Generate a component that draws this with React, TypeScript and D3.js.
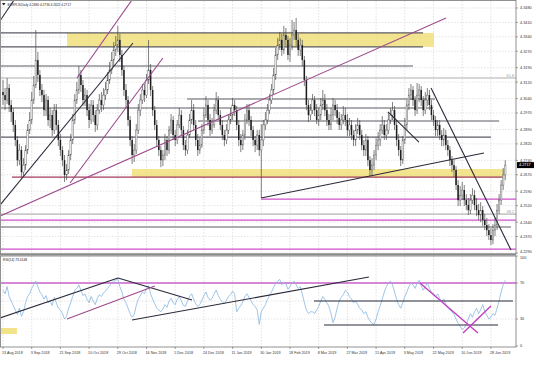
import React from 'react';
import * as d3 from 'd3';

const W = 536, H = 378;

const symbolTitle = 'EURPLN,Daily  4.2680 4.2736 4.2622 4.2717';
const rsiTitle = 'RSI(14) 73.4148';
const lastPriceLabel = '4.2717';

const firstOpen = 4.3072;
const closes = [
  4.3057,4.3033,4.3091,4.3009,4.2975,4.2912,4.2839,4.2741,4.2790,4.2683,
  4.2717,4.2790,4.2887,4.2936,4.3033,4.3106,4.3227,4.3155,4.3082,4.3057,
  4.2984,4.3033,4.2936,4.2960,4.2887,4.2984,4.2912,4.2839,4.2790,4.2741,
  4.2669,4.2693,4.2766,4.2839,4.2936,4.3033,4.3082,4.3155,4.3106,4.3033,
  4.3057,4.2984,4.2936,4.3009,4.2960,4.2912,4.2984,4.3033,4.3009,4.3057,
  4.3082,4.3130,4.3179,4.3227,4.3276,4.3300,4.3325,4.3252,4.3179,4.3082,
  4.3033,4.2936,4.2839,4.2766,4.2790,4.2887,4.2984,4.3033,4.3082,4.3057,
  4.3130,4.3179,4.3082,4.2984,4.2912,4.2839,4.2790,4.2741,4.2766,4.2839,
  4.2790,4.2887,4.2936,4.2863,4.2839,4.2912,4.2960,4.2887,4.2814,4.2790,
  4.2863,4.2936,4.2984,4.2912,4.2839,4.2790,4.2814,4.2887,4.2960,4.3009,
  4.2936,4.2887,4.2912,4.2984,4.3033,4.2960,4.2912,4.2863,4.2839,4.2887,
  4.2936,4.2960,4.3009,4.2984,4.2912,4.2839,4.2814,4.2863,4.2936,4.2984,
  4.2936,4.2887,4.2839,4.2814,4.2863,4.2790,4.2839,4.2912,4.2936,4.2984,
  4.3033,4.3082,4.3155,4.3252,4.3300,4.3325,4.3276,4.3349,4.3325,4.3252,
  4.3300,4.3349,4.3373,4.3325,4.3276,4.3300,4.3227,4.3130,4.3009,4.2960,
  4.2984,4.3033,4.2984,4.2936,4.2960,4.3009,4.3033,4.2984,4.2936,4.2912,
  4.2960,4.3009,4.2984,4.2946,4.2912,4.2936,4.2960,4.2936,4.2887,4.2912,
  4.2863,4.2839,4.2887,4.2912,4.2863,4.2814,4.2790,4.2839,4.2741,4.2693,
  4.2717,4.2766,4.2814,4.2839,4.2887,4.2912,4.2863,4.2887,4.2936,4.2960,
  4.2984,4.2912,4.2839,4.2790,4.2741,4.2839,4.2912,4.3009,4.3057,4.3082,
  4.3033,4.2984,4.3057,4.3082,4.3033,4.2984,4.3033,4.3057,4.3009,4.2960,
  4.2936,4.2887,4.2912,4.2863,4.2839,4.2863,4.2814,4.2790,4.2741,4.2717,
  4.2693,4.2620,4.2547,4.2571,4.2596,4.2547,4.2523,4.2498,4.2547,4.2571,
  4.2523,4.2498,4.2474,4.2498,4.2450,4.2426,4.2401,4.2377,4.2353,4.2401,
  4.2426,4.2498,4.2547,4.2620,4.2669,4.2717
];
const highs = [
  4.3130,4.3091,4.3140,4.3111,4.3033,4.2994,4.2936,4.2858,4.2819,4.2809,
  4.2751,4.2814,4.2916,4.2975,4.3072,4.3150,4.3373,4.3266,4.3179,4.3111,
  4.3082,4.3062,4.3052,4.2994,4.2984,4.3014,4.3014,4.2936,4.2868,4.2809,
  4.2766,4.2722,4.2790,4.2868,4.2965,4.3062,4.3121,4.3198,4.3179,4.3130,
  4.3091,4.3082,4.3014,4.3033,4.3033,4.2984,4.3014,4.3062,4.3072,4.3091,
  4.3121,4.3169,4.3218,4.3266,4.3315,4.3344,4.3393,4.3354,4.3276,4.3198,
  4.3111,4.3052,4.2955,4.2858,4.2819,4.2916,4.3014,4.3062,4.3111,4.3111,
  4.3159,4.3325,4.3208,4.3101,4.3004,4.2936,4.2858,4.2809,4.2790,4.2868,
  4.2858,4.2907,4.2965,4.2955,4.2887,4.2936,4.2994,4.2984,4.2907,4.2839,
  4.2887,4.2965,4.3033,4.3014,4.2936,4.2868,4.2848,4.2916,4.2994,4.3052,
  4.3033,4.2965,4.2946,4.3014,4.3072,4.3052,4.2984,4.2936,4.2887,4.2916,
  4.2965,4.2994,4.3043,4.3033,4.3004,4.2936,4.2868,4.2887,4.2965,4.3014,
  4.3014,4.2955,4.2907,4.2858,4.2887,4.2887,4.2916,4.2936,4.2975,4.3014,
  4.3062,4.3111,4.3189,4.3286,4.3334,4.3364,4.3354,4.3393,4.3383,4.3344,
  4.3334,4.3422,4.3412,4.3432,4.3354,4.3334,4.3325,4.3247,4.3150,4.3033,
  4.3014,4.3062,4.3052,4.3014,4.2994,4.3043,4.3082,4.3062,4.3014,4.2965,
  4.2994,4.3043,4.3033,4.3014,4.2975,4.2965,4.3004,4.2994,4.2965,4.2946,
  4.2936,4.2887,4.2916,4.2946,4.2936,4.2887,4.2839,4.2868,4.2858,4.2761,
  4.2751,4.2790,4.2848,4.2878,4.2916,4.2955,4.2936,4.2916,4.2975,4.2994,
  4.3023,4.3004,4.2936,4.2868,4.2809,4.2858,4.2946,4.3033,4.3091,4.3111,
  4.3101,4.3052,4.3116,4.3111,4.3101,4.3052,4.3072,4.3091,4.3082,4.3033,
  4.2984,4.2955,4.2936,4.2936,4.2887,4.2897,4.2887,4.2839,4.2809,4.2761,
  4.2741,4.2712,4.2644,4.2615,4.2635,4.2620,4.2576,4.2557,4.2576,4.2605,
  4.2596,4.2557,4.2528,4.2537,4.2518,4.2479,4.2460,4.2430,4.2411,4.2430,
  4.2460,4.2528,4.2576,4.2644,4.2703,4.2741
];
const lows = [
  4.3009,4.2984,4.3014,4.2975,4.2926,4.2878,4.2809,4.2712,4.2717,4.2659,
  4.2664,4.2693,4.2771,4.2868,4.2916,4.3014,4.3091,4.3121,4.3052,4.3023,
  4.2955,4.2955,4.2907,4.2897,4.2858,4.2868,4.2887,4.2809,4.2761,4.2712,
  4.2635,4.2644,4.2673,4.2741,4.2819,4.2916,4.3014,4.3062,4.3072,4.3004,
  4.3004,4.2955,4.2897,4.2916,4.2926,4.2878,4.2887,4.2965,4.2975,4.2984,
  4.3033,4.3062,4.3111,4.3159,4.3198,4.3247,4.3266,4.3218,4.3150,4.3052,
  4.2994,4.2907,4.2809,4.2722,4.2732,4.2771,4.2868,4.2955,4.3014,4.3023,
  4.3043,4.3111,4.3052,4.2955,4.2887,4.2809,4.2761,4.2707,4.2712,4.2741,
  4.2761,4.2771,4.2868,4.2839,4.2809,4.2819,4.2897,4.2858,4.2790,4.2761,
  4.2771,4.2848,4.2916,4.2887,4.2809,4.2761,4.2771,4.2800,4.2868,4.2946,
  4.2907,4.2858,4.2868,4.2897,4.2965,4.2936,4.2887,4.2839,4.2809,4.2819,
  4.2868,4.2916,4.2936,4.2955,4.2887,4.2809,4.2780,4.2790,4.2839,4.2916,
  4.2907,4.2858,4.2809,4.2780,4.2790,4.2761,4.2557,4.2809,4.2887,4.2916,
  4.2965,4.3014,4.3062,4.3130,4.3227,4.3276,4.3247,4.3257,4.3295,4.3227,
  4.3218,4.3276,4.3325,4.3295,4.3247,4.3247,4.3198,4.3101,4.2984,4.2926,
  4.2936,4.2965,4.2955,4.2916,4.2907,4.2936,4.2984,4.2955,4.2907,4.2887,
  4.2887,4.2936,4.2955,4.2916,4.2887,4.2887,4.2916,4.2907,4.2858,4.2858,
  4.2839,4.2809,4.2809,4.2868,4.2839,4.2790,4.2761,4.2761,4.2712,4.2664,
  4.2669,4.2693,4.2741,4.2790,4.2809,4.2868,4.2839,4.2839,4.2868,4.2916,
  4.2936,4.2887,4.2809,4.2761,4.2712,4.2722,4.2819,4.2887,4.2984,4.3033,
  4.3004,4.2955,4.2965,4.3023,4.3004,4.2955,4.2965,4.3004,4.2984,4.2936,
  4.2907,4.2858,4.2858,4.2839,4.2809,4.2809,4.2790,4.2761,4.2712,4.2683,
  4.2659,4.2596,4.2518,4.2518,4.2547,4.2518,4.2498,4.2474,4.2479,4.2528,
  4.2498,4.2469,4.2450,4.2440,4.2421,4.2401,4.2372,4.2353,4.2328,4.2333,
  4.2372,4.2401,4.2479,4.2523,4.2596,4.2644
];
const rsiValues = [
  62,58,66,55,50, 45,40,35,42,33,38, 48,55,58, 64,68,72,66,60,
  57,52,56,48,50,45,54,48,42,40, 36,30,33,42,48, 55,62,64,68,62,56,58,
  52,48,55,50,46,53,57,55,59, 61,64,67,70,72,73,75,66, 60,52,48,42,36,32,
  35,45,52, 56,60,58,64,67,58, 52,47,42,40,38,41,46,43, 50,53,48,46,52,
  55,50,45,44,50,55,58,52,47,44,46,51,56,60,54,51,53,58,62,56,
  52,49,47,51,55,57,61,58,38,42,45,49,55,58,54,50,46,44,40,24,
  38, 42,46,52,56,60,65,70, 72,74,68,71,69,63,66,70,72,68,64,66,58,
  48,40,36,38, 38,36,40,44,50,55,52,48,44,36,26,32,42,50,54,
  57,62,60,55,52,48,50,46,42,40,36,38,32,28,25,
  24,30,38,45,52,60,66,70,72,68, 60,52,46,42,48,55,
  60,66,70,68,64,70,73,67, 62,66,70,64,60,58, 55,58,53,50,52,46,42,
  40,38,35,30,25, 22,18,20,24,30,36,32,38,42,36,
  40,46,38,34,30,32,36,34, 42,50,60,68,73
];

const priceTicks = [4.3480,4.3410,4.3340,4.3270,4.3190,4.3120,4.3040,4.2970,4.2890,
  4.2820,4.2740,4.2670,4.2590,4.2520,4.2440,4.2370,4.2290];
const rsiTicks = [100, 70, 30, 0];
const dateLabels = ['13 Aug 2018','3 Sep 2018','21 Sep 2018','10 Oct 2018','29 Oct 2018',
  '16 Nov 2018','5 Dec 2018','24 Dec 2018','11 Jan 2019','30 Jan 2019','18 Feb 2019',
  '8 Mar 2019','27 Mar 2019','15 Apr 2019','3 May 2019','22 May 2019','10 Jun 2019','28 Jun 2019'];
const dateBars = [0,14,28,42,56,70,84,98,112,126,140,154,168,182,196,210,224,238];

// annotation levels: [price, fromBar, toBar, kind]
const levels: [number, number, number, string][] = [
  [4.3359, -2, 204.9, 'gray'],
  [4.3291, -2, 204.9, 'gray'],
  [4.3198, -2, 200, 'gray'],
  [4.3140, -2, 252, 'fib'],
  [4.3038, 89.8, 210.7, 'gray'],
  [4.2994, -2, 209.8, 'gray'],
  [4.2931, 95.1, 242, 'gray'],
  [4.2853, -2, 238, 'gray'],
  [4.2659, 4.4, 244.4, 'red'],
  [4.2552, 125.9, 252, 'pink'],
  [4.2479, -2, 252, 'fib'],
  [4.2450, -2, 252, 'pink'],
  [4.2416, -2, 247.8, 'gray'],
  [4.2309, -2, 252, 'pink'],
];
// zones: [priceTop, priceBottom, fromBar, toBar]
const zones: [number, number, number, number][] = [
  [4.3359, 4.3291, 31.2, 210.2],
  [4.2698, 4.2659, 62.9, 244.4],
];
const fibLabels: [number, string][] = [[4.3140, '61.8'], [4.2479, '38.2']];
// trend lines: [bar1, price1, bar2, price2, kind]
const trends: [number, number, number, number, string][] = [
  [-1.5, 4.3417, 5.4, 4.3519, 'black'],
  [-1.46, 4.2523, 63.4, 4.3310, 'black'],
  [36.1, 4.3140, 62.9, 4.3519, 'purple'],
  [32.7, 4.2630, 78.0, 4.3237, 'purple'],
  [-1.46, 4.2469, 216.1, 4.3432, 'purple'],
  [125.9, 4.2557, 234.6, 4.2776, 'black'],
  [187.8, 4.2975, 202.9, 4.2829, 'black'],
  [208.8, 4.3091, 247.8, 4.2304, 'black'],
];
// RSI lines: [bar1, rsi1, bar2, rsi2, kind]
const rsiTrends: [number, number, number, number, string][] = [
  [-1.46, 31.1, 56.1, 75.6, 'black'],
  [56.1, 75.6, 92.2, 51.1, 'black'],
  [31.2, 30, 74.1, 66.7, 'purple'],
  [62.9, 28.9, 178.5, 76.7, 'black'],
  [151.7, 50, 248.8, 50, 'black'],
  [156.6, 23.3, 241.5, 23.3, 'black'],
  [203.4, 70, 231.7, 14.4, 'magenta'],
  [224.4, 14.4, 238, 44.4, 'magenta'],
];
const rsiZone: [number, number, number, number] = [-1.5, 6.8, 20, 13.3];

const colors: Record<string, string> = {
  gray: '#5a5a64', black: '#2a2a3a', purple: '#9c4a8c', red: '#a23a58',
  pink: '#d050cc', magenta: '#c040c0', fib: '#c8c8c8',
};

export default function App() {
  const x = d3.scaleLinear().domain([0, 245]).range([3, 505.25]);
  const y = d3.scaleLinear().domain([4.2290, 4.3480]).range([253, 8]);
  const ry = d3.scaleLinear().domain([0, 100]).range([346, 256]);
  const rsiLine = d3.line<number>().x((_, i) => x(i)).y(d => ry(d))(rsiValues) || '';
  const right = 516;
  const font = 'Liberation Sans, Arial, sans-serif';
  const lastClose = closes[closes.length - 1];
  const lastTick = priceTicks[priceTicks.length - 1];

  return (
    <svg width={W} height={H} style={{ position: 'absolute', left: 0, top: 0, background: '#fff' }} fontFamily={font}>
      <defs>
        <clipPath id="mainClip"><rect x={1} y={1} width={right - 1} height={253} /></clipPath>
        <clipPath id="rsiClip"><rect x={1} y={256} width={right - 1} height={91} /></clipPath>
      </defs>
      <rect x={0} y={0} width={W} height={H} fill="#fff" />
      {/* grid */}
      {dateBars.map((b, k) => (
        <line key={'vg' + k} x1={x(b)} x2={x(b)} y1={1} y2={347} stroke="#cfcfcf" strokeWidth={0.6} strokeDasharray="1.5,1.5" />
      ))}
      {priceTicks.map((p, k) => (
        <line key={'hg' + k} x1={1} x2={right} y1={y(p)} y2={y(p)} stroke="#d4d4d4" strokeWidth={0.6} strokeDasharray="1.5,1.5" />
      ))}
      {[30, 50].map((r, k) => (
        <line key={'rg' + k} x1={1} x2={right} y1={ry(r)} y2={ry(r)} stroke="#d4d4d4" strokeWidth={0.6} strokeDasharray="1.5,1.5" />
      ))}
      <g clipPath="url(#mainClip)">
        {zones.map((z, k) => (
          <rect key={'z' + k} x={x(z[2])} width={x(z[3]) - x(z[2])} y={y(z[0])} height={y(z[1]) - y(z[0])} fill="#efdc6a" opacity={0.75} />
        ))}
        {levels.map((l, k) => (
          <line key={'l' + k} x1={x(l[1])} x2={x(l[2])} y1={y(l[0])} y2={y(l[0])} stroke={colors[l[3]]}
            strokeWidth={l[3] === 'fib' ? 1.6 : l[3] === 'gray' ? 1.1 : 1.3} />
        ))}
        {/* candles */}
        {closes.map((c, i) => {
          const o = i === 0 ? firstOpen : closes[i - 1];
          const hi = Math.max(highs[i], o, c);
          const lo = Math.min(lows[i], o, c);
          const top = y(Math.max(o, c));
          const h = Math.max(0.6, Math.abs(y(o) - y(c)));
          const bull = c > o;
          return (
            <g key={'c' + i}>
              <line x1={x(i)} x2={x(i)} y1={y(hi)} y2={y(lo)} stroke="#4a4a4a" strokeWidth={0.7} />
              <rect x={x(i) - 0.75} y={top} width={1.5} height={h} fill={bull ? '#f4f4f4' : '#1e1e1e'} stroke={bull ? '#555' : 'none'} strokeWidth={0.4} />
            </g>
          );
        })}
        {trends.map((t, k) => (
          <line key={'t' + k} x1={x(t[0])} y1={y(t[1])} x2={x(t[2])} y2={y(t[3])} stroke={colors[t[4]]} strokeWidth={1.1} />
        ))}
      </g>
      {fibLabels.map((f, k) => (
        <text key={'f' + k} x={514} y={y(f[0]) - 1} fontSize={3.8} fill="#9a9a9a" textAnchor="end">{f[1]}</text>
      ))}
      {/* RSI pane */}
      <g clipPath="url(#rsiClip)">
        <rect x={x(rsiZone[0])} width={x(rsiZone[1]) - x(rsiZone[0])} y={ry(rsiZone[2])} height={ry(rsiZone[3]) - ry(rsiZone[2])} fill="#efdc6a" opacity={0.8} />
        <line x1={1} x2={right} y1={ry(70)} y2={ry(70)} stroke="#c860c8" strokeWidth={1.4} />
        <path d={rsiLine} fill="none" stroke="#86b6df" strokeWidth={0.8} />
        {rsiTrends.map((t, k) => (
          <line key={'rt' + k} x1={x(t[0])} y1={ry(t[1])} x2={x(t[2])} y2={ry(t[3])} stroke={colors[t[4]]} strokeWidth={t[4] === 'magenta' ? 1.4 : 1.1} />
        ))}
      </g>
      {/* frames */}
      <rect x={0.5} y={0.5} width={right - 0.5} height={253.5} fill="none" stroke="#777" strokeWidth={0.8} />
      <line x1={0} x2={right} y1={254.5} y2={254.5} stroke="#8a8a8a" strokeWidth={2} />
      <rect x={0.5} y={256} width={right - 0.5} height={91} fill="none" stroke="#777" strokeWidth={0.8} />
      {/* price axis */}
      {priceTicks.map((p, k) => (
        <g key={'pt' + k}>
          <line x1={right} x2={right + 2} y1={y(p)} y2={y(p)} stroke="#666" strokeWidth={0.6} />
          <text x={520} y={y(p) + (p === lastTick ? 0 : 1.4)} fontSize={3.8} fill="#333">{p.toFixed(4)}</text>
        </g>
      ))}
      <rect x={right + 1} y={y(lastClose) - 3} width={17} height={6} fill="#000" />
      <text x={519} y={y(lastClose) + 1.4} fontSize={3.8} fill="#fff">{lastPriceLabel}</text>
      {rsiTicks.map((r, k) => (
        <g key={'rt' + k}>
          <line x1={right} x2={right + 2} y1={ry(r)} y2={ry(r)} stroke="#666" strokeWidth={0.6} />
          <text x={520} y={ry(r) + (r === 100 ? 2.6 : 1.4)} fontSize={3.8} fill="#333">{r}</text>
        </g>
      ))}
      {/* date axis */}
      {dateBars.map((b, k) => (
        <g key={'d' + k}>
          <line x1={x(b)} x2={x(b)} y1={347} y2={349} stroke="#666" strokeWidth={0.6} />
          <text x={x(b) - 1} y={353.5} fontSize={3.7} fill="#333">{dateLabels[k]}</text>
        </g>
      ))}
      {/* titles */}
      <path d="M2,3 L5.5,3 L3.75,5.5 Z" fill="#222" />
      <text x={7.5} y={5.8} fontSize={3.2} fill="#222">{symbolTitle}</text>
      <text x={3} y={261} fontSize={3.3} fill="#222">{rsiTitle}</text>
    </svg>
  );
}
